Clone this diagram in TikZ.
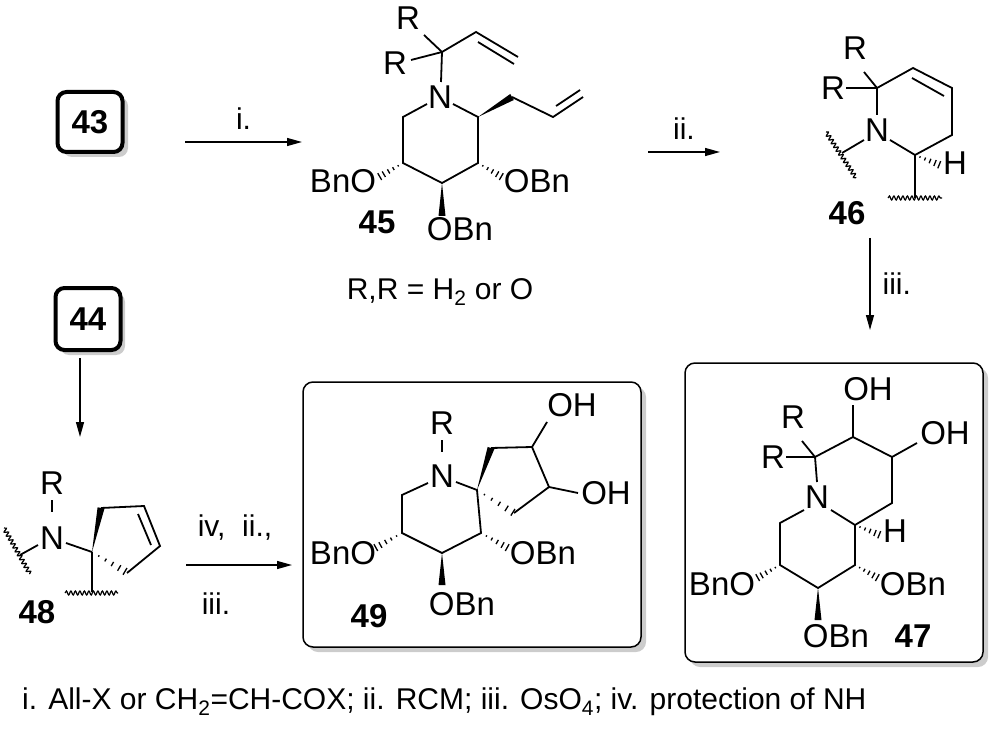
\documentclass[tikz,border=0pt]{standalone}
\usepackage{fontspec}
\setmainfont{Liberation Sans}
\usetikzlibrary{calc,decorations.pathmorphing,arrows.meta}
\newcommand\wdg[2]{\fill ($(#1)$) -- ($(#2)!3.5pt!90:(#1)$) -- ($(#2)!3.5pt!-90:(#1)$) -- cycle;}
\newcommand\hsh[2]{\foreach \t in {0.2,0.4,0.6,0.8,0.97}{\coordinate (hp) at ($(#1)!\t!(#2)$); \draw[line width=1.3pt] ($(hp)!{\t*4pt}!90:(#1)$) -- ($(hp)!{\t*4pt}!-90:(#1)$);}}
\tikzset{
 atm/.style={inner sep=0pt,font=\fontsize{33}{35}\selectfont},
 lbl/.style={inner sep=0pt,font=\fontsize{33}{35}\selectfont\bfseries},
 rg/.style={inner sep=0pt,font=\fontsize{30}{32}\selectfont},
 arr/.style={line width=1.3pt,-{Triangle[length=15pt,width=8pt]}},
 bd/.style={line width=1.8pt},
 wv/.style={line width=1.2pt,decorate,decoration={snake,amplitude=2pt,segment length=4.5pt}},
 cbox/.style={line width=4pt,rounded corners=9pt,draw,fill=white},
 pbox/.style={line width=1.5pt,rounded corners=10pt,draw,fill=white},
}
\begin{document}
\begin{tikzpicture}[x=1pt,y=-1pt]
\useasboundingbox (0,0) rectangle (992,735);
% 43 and 44
\fill[gray!40,rounded corners=9pt] (63,97) rectangle (128,157);
\node[cbox,minimum width=65pt,minimum height=60pt,font=\fontsize{33}{35}\selectfont\bfseries] (c43) at (90,122) {43};
\fill[gray!40,rounded corners=9pt] (60,293) rectangle (125,355);
\node[cbox,minimum width=65pt,minimum height=62pt,font=\fontsize{33}{35}\selectfont\bfseries] (c44) at (88,319) {44};
% arrows
\coordinate (a1s) at (185,142); \coordinate (a1e) at (302,142);
\draw[arr] (a1s) -- (a1e) node[rg,midway,above=12pt] (ri) {i.};
\coordinate (a2s) at (648,152); \coordinate (a2e) at (720,152);
\draw[arr] (a2s) -- (a2e) node[rg,midway,above=12pt] (rii) {ii.};
\coordinate (a3s) at (870,238); \coordinate (a3e) at (870,330);
\draw[arr] (a3s) -- (a3e) node[rg,midway,right=12pt] (riii) {iii.};
\coordinate (a4s) at (80,358); \coordinate (a4e) at (80,437);
\draw[arr] (a4s) -- (a4e);
\coordinate (a5s) at (186,565); \coordinate (a5e) at (292,565);
\draw[arr] (a5s) -- (a5e);
\node[rg] (r5a) at (235,528) {iv,~ ii.,};
\node[rg] (r5b) at (216,604) {iii.};
\node[rg] (rr) at (440,292) {R,R = H\textsubscript{2} or O};
\node[rg,anchor=west] (foot) at (22,702) {i. All-X or CH\textsubscript{2}=CH-COX; ii. RCM; iii. OsO\textsubscript{4}; iv. protection of NH};
% ---------- 45
\node[atm] (N45) at (440,97) {N};
\node[atm] (R45a) at (408,18) {R};
\node[atm] (R45b) at (395,63) {R};
\draw[bd] (442,52) -- (441,82);
\draw[bd] (442,52) -- (424,35);
\draw[bd] (442,52) -- (411,60);
\draw[bd] (442,52) -- (476,32) -- (518,57);
\draw[bd] (478,42) -- (514,64);
\draw[bd] (427,104) -- (403,117) -- (403,163) -- (442,183) -- (478,163) -- (478,117) -- (453,104);
\wdg{478,117}{512,97}
\draw[bd] (512,97) -- (553,117) -- (583,97);
\draw[bd] (556,106) -- (580,90);
\hsh{403,163}{379,177}
\hsh{478,163}{502,177}
\wdg{442,183}{442,216}
\node[atm] (O45a) at (343,181) {BnO};
\node[atm] (O45b) at (537,181) {OBn};
\node[atm] (O45c) at (460,229) {OBn};
\node[lbl] (L45) at (377,222) {45};
% ---------- 46
\node[atm] (N46) at (877,130) {N};
\node[atm] (R46a) at (855,48) {R};
\node[atm] (R46b) at (833,88) {R};
\node[atm] (H46) at (955,163) {H};
\draw[bd] (877,115) -- (877,88) -- (913,68) -- (952,88) -- (952,135) -- (915,155) -- (890,140);
\draw[bd] (912,78) -- (944,96);
\draw[bd] (877,88) -- (864,72);
\draw[bd] (877,88) -- (846,88);
\hsh{915,155}{940,165}
\draw[bd] (915,155) -- (915,198);
\draw[wv] (888,198) -- (942,198);
\draw[bd] (864,140) -- (842,153);
\draw[wv] (826,132) -- (856,178);
\node[lbl] (L46) at (847,213) {46};
% ---------- 47
\fill[gray!40,rounded corners=10pt] (690,368) rectangle (988,667);
\node[pbox,minimum width=298pt,minimum height=299pt] (B47) at (834,512.5) {};
\node[atm] (O47a) at (868,389) {OH};
\node[atm] (O47b) at (945,433) {OH};
\node[atm] (R47a) at (793,417) {R};
\node[atm] (R47b) at (773,457) {R};
\node[atm] (N47) at (817,497) {N};
\node[atm] (H47) at (895,531) {H};
\draw[bd] (853,405) -- (853,437);
\draw[bd] (817,482) -- (815,457) -- (853,437) -- (892,457) -- (892,503) -- (855,525) -- (831,510);
\draw[bd] (892,457) -- (917,443);
\draw[bd] (815,457) -- (802,441);
\draw[bd] (815,457) -- (786,457);
\draw[bd] (804,510) -- (780,523) -- (780,565) -- (818,588) -- (855,565) -- (855,525);
\hsh{855,525}{880,535}
\hsh{780,565}{757,578}
\hsh{855,565}{878,578}
\wdg{818,588}{818,620}
\node[atm] (O47c) at (722,584) {BnO};
\node[atm] (O47d) at (913,584) {OBn};
\node[atm] (O47e) at (836,636) {OBn};
\node[lbl] (L47) at (913,636) {47};
% ---------- 48
\node[atm] (R48) at (52,483) {R};
\node[atm] (N48) at (52,538) {N};
\draw[bd] (52,500) -- (52,512);
\draw[bd] (66,543) -- (92,552);
\wdg{92,552}{101,508}
\draw[bd] (101,508) -- (144,506) -- (160,546) -- (127,573);
\draw[bd] (138,514) -- (151,545);
\hsh{92,552}{126,572}
\draw[bd] (92,552) -- (92,592);
\draw[wv] (65,593) -- (118,593);
\draw[bd] (38,545) -- (20,555);
\draw[wv] (4,528) -- (30,574);
\node[lbl] (L48) at (37,612) {48};
% ---------- 49
\fill[gray!40,rounded corners=10pt] (308,387) rectangle (646,652);
\node[pbox,minimum width=338pt,minimum height=265pt] (B49) at (472,514.5) {};
\node[atm] (R49) at (442,423) {R};
\node[atm] (N49) at (442,476) {N};
\node[atm] (O49a) at (572,405) {OH};
\node[atm] (O49b) at (606,493) {OH};
\draw[bd] (442,440) -- (442,452);
\draw[bd] (428,483) -- (402,495) -- (402,533) -- (442,553) -- (481,533) -- (477,490) -- (456,482);
\wdg{477,490}{491,448}
\draw[bd] (491,448) -- (532,447) -- (549,487) -- (514,513);
\draw[bd] (532,447) -- (547,422);
\draw[bd] (549,487) -- (578,493);
\hsh{477,490}{514,513}
\hsh{402,533}{375,548}
\hsh{481,533}{508,548}
\wdg{442,553}{442,585}
\node[atm] (O49c) at (343,553) {BnO};
\node[atm] (O49d) at (543,553) {OBn};
\node[atm] (O49e) at (462,604) {OBn};
\node[lbl] (L49) at (369,616) {49};
\end{tikzpicture}
\end{document}
